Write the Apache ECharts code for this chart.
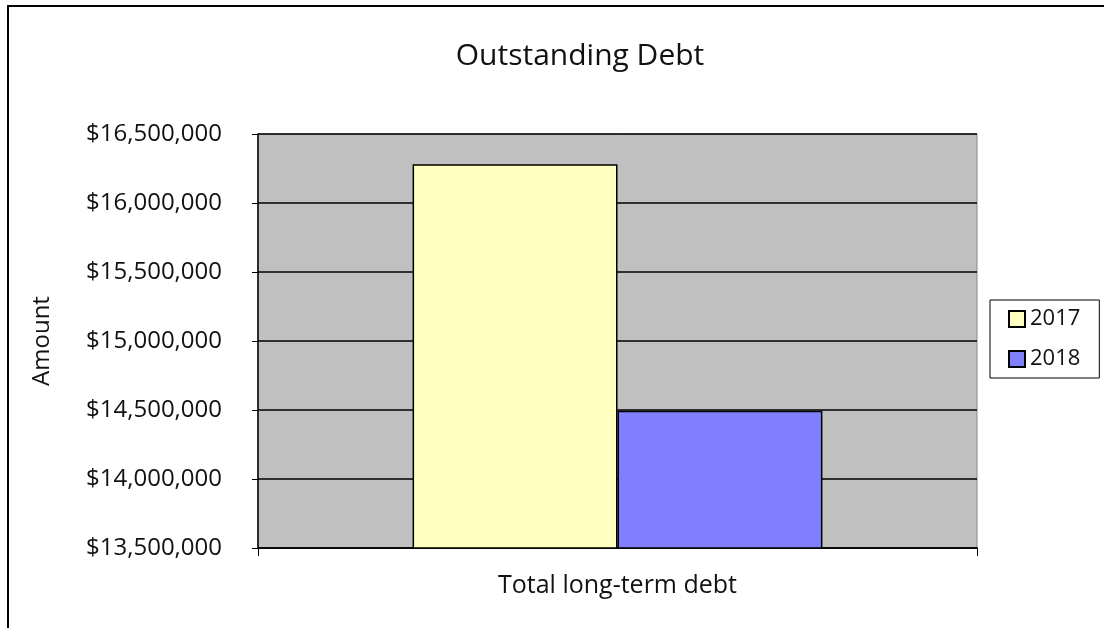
<!DOCTYPE html>
<html>
<head>
<meta charset="utf-8">
<script src="https://cdn.jsdelivr.net/npm/echarts@6/dist/echarts.min.js"></script>
<style>
  html, body { margin: 0; padding: 0; background: #fff; }
  #chart { width: 1104px; height: 628px; }
</style>
</head>
<body>
<div id="chart"></div>
<script>
// data
const categories = ["Total long-term debt"];
const seriesNames = ["2017", "2018"];
const values2017 = [16280000];
const values2018 = [14495000];
const yMin = 13500000;
const yMax = 16500000;
const yStep = 500000;

const font = "Open Sans";

const myChart = echarts.init(document.getElementById("chart"));
myChart.setOption({
  backgroundColor: "#fff",
  animation: false,
  textStyle: { fontFamily: font, color: "#000" },
  title: {
    text: "Outstanding Debt",
    left: 575,
    top: 36,
    textAlign: "center",
    textStyle: { fontFamily: font, fontSize: 30, fontWeight: "normal", color: "#111" },
  },
  graphic: [
    {
      type: "rect",
      shape: { x: 8, y: 6, width: 1200, height: 700 },
      style: { fill: null, stroke: "#000", lineWidth: 2 },
      silent: true,
    },
  ],
  legend: {
    orient: "vertical",
    left: 990,
    top: 300,
    padding: [8, 19, 8, 18],
    itemGap: 18,
    itemWidth: 16,
    itemHeight: 16,
    borderColor: "#000",
    borderWidth: 1,
    icon: "rect",
    textStyle: { fontFamily: font, fontSize: 22, color: "#111" },
    data: seriesNames,
  },
  grid: {
    left: 258,
    top: 134,
    right: 127,
    bottom: 80,
    show: true,
    backgroundColor: "#c0c0c0",
    borderColor: "#888",
    borderWidth: 1,
  },
  xAxis: {
    type: "category",
    data: categories,
    axisLine: { lineStyle: { color: "#000", width: 1.5 } },
    axisTick: { show: true, length: 8, lineStyle: { color: "#000" } },
    axisLabel: { fontFamily: font, fontSize: 25, color: "#111", margin: 25 },
  },
  yAxis: {
    type: "value",
    min: yMin,
    max: yMax,
    interval: yStep,
    name: "Amount",
    nameLocation: "middle",
    nameGap: 204,
    nameTextStyle: { fontFamily: font, fontSize: 24, color: "#111" },
    axisLine: { show: true, lineStyle: { color: "#000", width: 1.5 } },
    axisTick: { show: true, length: 6, lineStyle: { color: "#000" } },
    axisLabel: {
      fontFamily: font,
      fontSize: 24,
      color: "#111",
      margin: 36,
      formatter: (v) => "$" + v.toLocaleString("en-US"),
    },
    splitLine: { show: true, lineStyle: { color: "#000", width: 1.5 } },
  },
  series: [
    {
      name: seriesNames[0],
      type: "bar",
      data: values2017,
      barGap: "0%",
      barCategoryGap: "43%",
      itemStyle: { color: "#ffffc0", borderColor: "#000", borderWidth: 1.5 },
    },
    {
      name: seriesNames[1],
      type: "bar",
      data: values2018,
      barGap: "0%",
      barCategoryGap: "43%",
      itemStyle: { color: "#8080ff", borderColor: "#000", borderWidth: 1.5 },
    },
  ],
});
</script>
</body>
</html>
